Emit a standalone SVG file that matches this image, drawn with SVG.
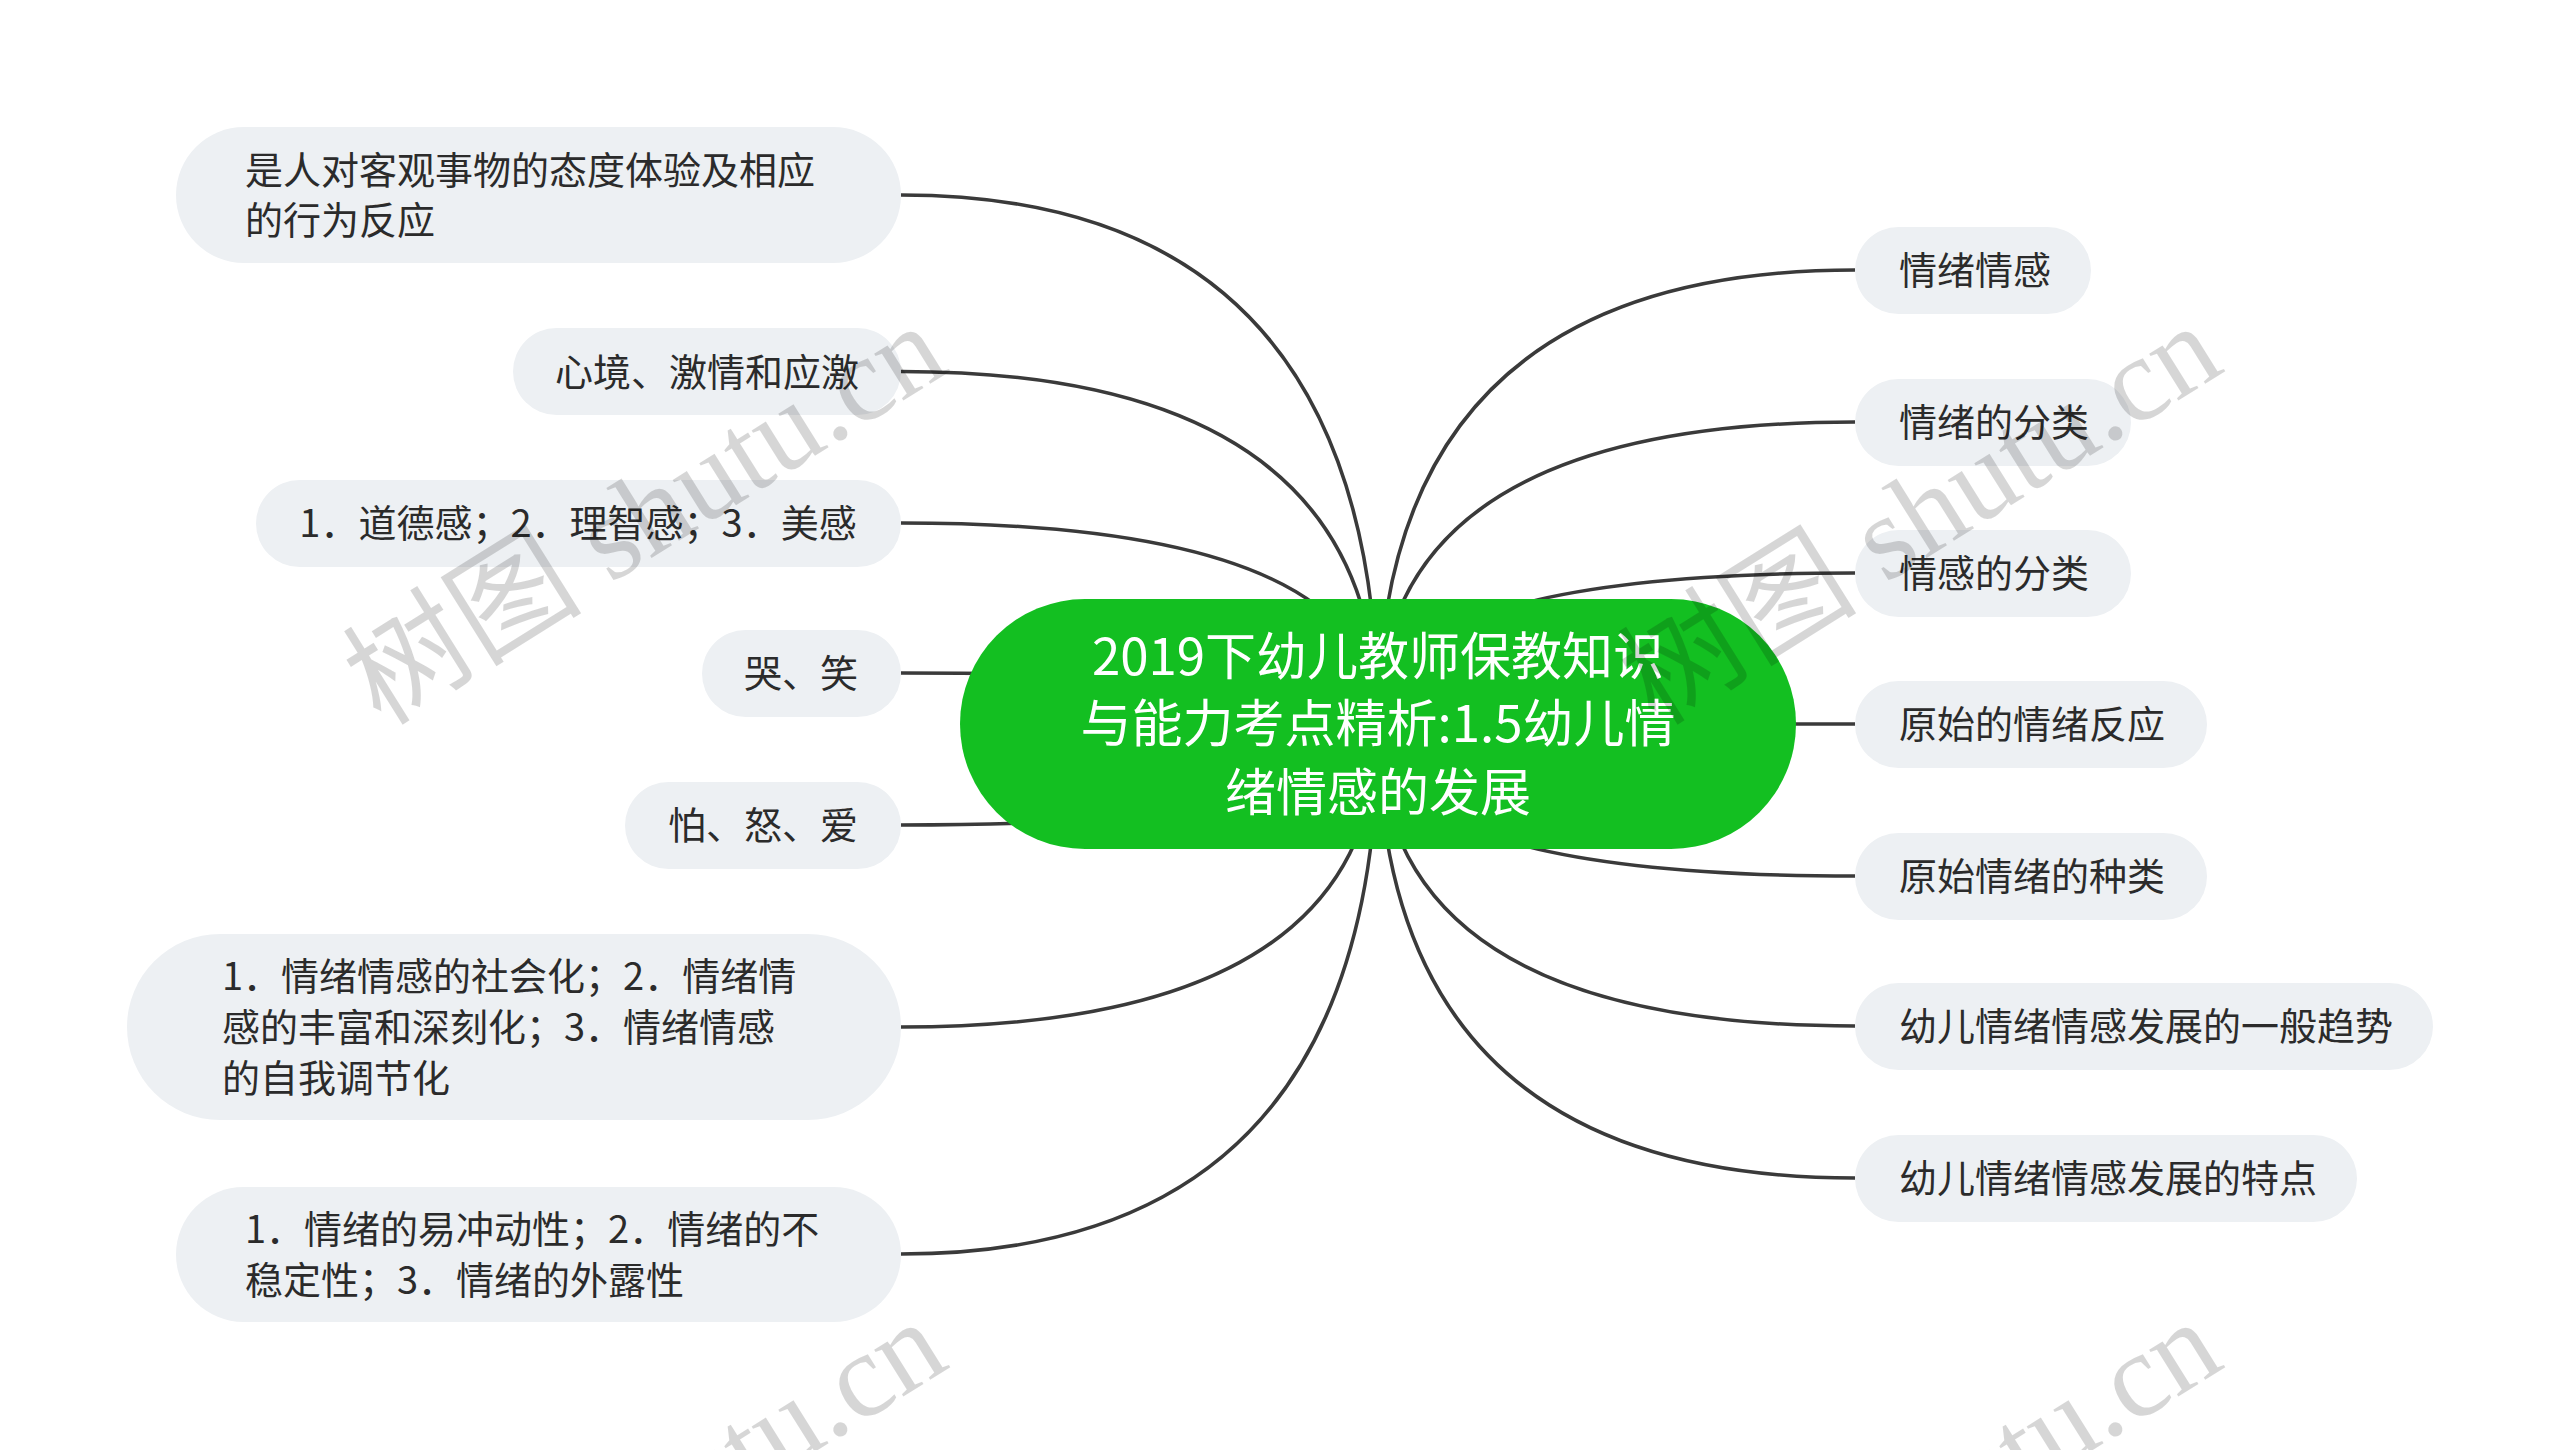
<svg xmlns="http://www.w3.org/2000/svg" width="2560" height="1450" viewBox="0 0 2560 1450">
<style>
.bg{fill:#ffffff}
.box{fill:#edf0f3}
.t{font-family:"Noto Sans CJK SC","Noto Sans",sans-serif;font-size:38px;fill:#2b2b2b}
.c{text-anchor:middle}
.root{fill:#13bf21}
.rt{font-family:"Noto Sans CJK SC","Noto Sans",sans-serif;font-size:51px;fill:#ffffff;text-anchor:middle}
.ln{fill:none;stroke:#3a3a3a;stroke-width:3.5}
.wm{font-family:"Liberation Serif","Noto Sans CJK SC",serif;font-size:120px;fill:#000;fill-opacity:0.16}
</style>
<rect class="bg" x="0" y="0" width="2560" height="1450"/>
<g id="connectors">
<path class="ln" d="M901 195 Q1378 195 1378 724"/>
<path class="ln" d="M901 371.5 Q1378 371.5 1378 724"/>
<path class="ln" d="M901 523 Q1378 523 1378 724"/>
<path class="ln" d="M901 673 Q1378 673 1378 724"/>
<path class="ln" d="M901 825 Q1378 825 1378 724"/>
<path class="ln" d="M901 1027 Q1378 1027 1378 724"/>
<path class="ln" d="M901 1254 Q1378 1254 1378 724"/>
<path class="ln" d="M1855 270 Q1378 270 1378 724"/>
<path class="ln" d="M1855 422 Q1378 422 1378 724"/>
<path class="ln" d="M1855 573 Q1378 573 1378 724"/>
<path class="ln" d="M1855 724 L1378 724"/>
<path class="ln" d="M1855 876 Q1378 876 1378 724"/>
<path class="ln" d="M1855 1026 Q1378 1026 1378 724"/>
<path class="ln" d="M1855 1178 Q1378 1178 1378 724"/>
</g>
<g id="root">
<rect class="root" x="960" y="599" width="836" height="250" rx="125"/>
<text class="rt" x="1378" y="675">2019下幼儿教师保教知识</text>
<text class="rt" x="1378" y="742">与能力考点精析:1.5幼儿情</text>
<text class="rt" x="1378" y="811">绪情感的发展</text>
</g>
<g id="L1"><rect class="box" x="176" y="127" width="725" height="136" rx="68"/>
<text class="t" x="245" y="184">是人对客观事物的态度体验及相应</text>
<text class="t" x="245" y="234">的行为反应</text></g>
<g id="L2"><rect class="box" x="513" y="328" width="388" height="87" rx="43.5"/>
<text class="t c" x="707" y="386">心境、激情和应激</text></g>
<g id="L3"><rect class="box" x="256" y="480" width="645" height="87" rx="43.5"/>
<text class="t c" x="578" y="537">1．道德感；2．理智感；3．美感</text></g>
<g id="L4"><rect class="box" x="702" y="630" width="199" height="87" rx="43.5"/>
<text class="t c" x="801" y="687">哭、笑</text></g>
<g id="L5"><rect class="box" x="625" y="782" width="276" height="87" rx="43.5"/>
<text class="t c" x="763" y="839">怕、怒、爱</text></g>
<g id="L6"><rect class="box" x="127" y="934" width="774" height="186" rx="93"/>
<text class="t" x="222" y="990">1．情绪情感的社会化；2．情绪情</text>
<text class="t" x="222" y="1041">感的丰富和深刻化；3．情绪情感</text>
<text class="t" x="222" y="1092">的自我调节化</text></g>
<g id="L7"><rect class="box" x="176" y="1187" width="725" height="135" rx="67.5"/>
<text class="t" x="245" y="1243">1．情绪的易冲动性；2．情绪的不</text>
<text class="t" x="245" y="1294">稳定性；3．情绪的外露性</text></g>
<g id="R1"><rect class="box" x="1855" y="227" width="236" height="87" rx="43.5"/>
<text class="t" x="1899" y="284">情绪情感</text></g>
<g id="R2"><rect class="box" x="1855" y="379" width="276" height="87" rx="43.5"/>
<text class="t" x="1899" y="436">情绪的分类</text></g>
<g id="R3"><rect class="box" x="1855" y="530" width="276" height="87" rx="43.5"/>
<text class="t" x="1899" y="587">情感的分类</text></g>
<g id="R4"><rect class="box" x="1855" y="681" width="352" height="87" rx="43.5"/>
<text class="t" x="1899" y="738">原始的情绪反应</text></g>
<g id="R5"><rect class="box" x="1855" y="833" width="352" height="87" rx="43.5"/>
<text class="t" x="1899" y="890">原始情绪的种类</text></g>
<g id="R6"><rect class="box" x="1855" y="983" width="578" height="87" rx="43.5"/>
<text class="t" x="1899" y="1040">幼儿情绪情感发展的一般趋势</text></g>
<g id="R7"><rect class="box" x="1855" y="1135" width="502" height="87" rx="43.5"/>
<text class="t" x="1899" y="1192">幼儿情绪情感发展的特点</text></g>
<g id="watermark">
<text class="wm" transform="translate(381 727) rotate(-32)">树图 shutu.cn</text>
<text class="wm" transform="translate(1656 727) rotate(-32)">树图 shutu.cn</text>
<text class="wm" transform="translate(381 1723) rotate(-32)">树图 shutu.cn</text>
<text class="wm" transform="translate(1656 1723) rotate(-32)">树图 shutu.cn</text>
</g>
</svg>
